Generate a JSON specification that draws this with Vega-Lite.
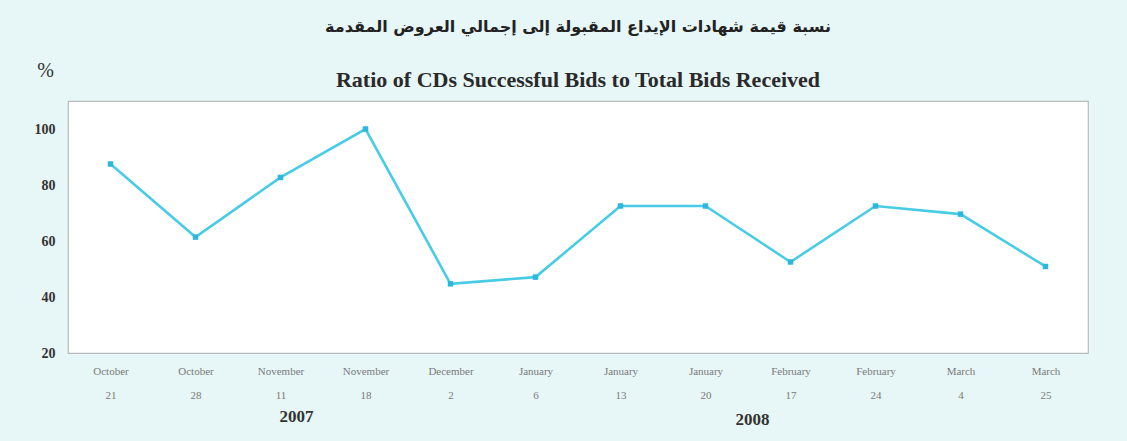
{
  "$schema": "https://vega.github.io/schema/vega-lite/v6.json",
  "width": 1020,
  "height": 252,
  "autosize": {"type": "none"},
  "padding": {"left": 68, "top": 101, "right": 39, "bottom": 88},
  "background": "#e7f6f6",
  "config": {
    "view": {"fill": "#ffffff", "stroke": "#b8bcbc", "strokeWidth": 1.2}
  },
  "title": {
    "text": "نسبة قيمة شهادات الإيداع المقبولة إلى إجمالي العروض المقدمة",
    "subtitle": "Ratio of CDs Successful Bids to Total Bids Received",
    "anchor": "middle",
    "font": "DejaVu Sans",
    "fontSize": 16,
    "fontWeight": "bold",
    "color": "#222222",
    "subtitleFont": "Liberation Serif",
    "subtitleFontSize": 22,
    "subtitleFontWeight": "bold",
    "subtitleColor": "#2a2a2a",
    "subtitlePadding": 35,
    "offset": -31
  },
  "datasets": {
    "ratio": [
      {"date": "October|21", "value": 87.5},
      {"date": "October|28", "value": 61.4},
      {"date": "November|11", "value": 82.7},
      {"date": "November|18", "value": 100},
      {"date": "December|2", "value": 44.7},
      {"date": "January|6", "value": 47.1},
      {"date": "January|13", "value": 72.5},
      {"date": "January|20", "value": 72.5},
      {"date": "February|17", "value": 52.5},
      {"date": "February|24", "value": 72.5},
      {"date": "March|4", "value": 69.6},
      {"date": "March|25", "value": 50.9}
    ]
  },
  "layer": [
    {
      "data": {"name": "ratio"},
      "mark": {"type": "line", "color": "#48cce6", "strokeWidth": 2.6},
      "encoding": {
        "x": {
          "field": "date",
          "type": "nominal",
          "sort": null,
          "axis": {
            "title": null,
            "labelAngle": 0,
            "labelExpr": "split(datum.value, '|')",
            "labelFont": "Liberation Serif",
            "labelFontSize": 11,
            "labelColor": "#7a7a7a",
            "labelLineHeight": 24,
            "labelPadding": 12,
            "ticks": false,
            "domain": false
          }
        },
        "y": {
          "field": "value",
          "type": "quantitative",
          "scale": {"domain": [20, 110], "nice": false, "zero": false},
          "axis": {
            "values": [20, 40, 60, 80, 100],
            "grid": false,
            "ticks": false,
            "domain": false,
            "labelFont": "Liberation Serif",
            "labelFontSize": 14,
            "labelFontWeight": "bold",
            "labelColor": "#333333",
            "labelPadding": 13,
            "title": "%",
            "titleAngle": 0,
            "titleX": -23,
            "titleY": -31,
            "titleAlign": "center",
            "titleBaseline": "middle",
            "titleFont": "Liberation Serif",
            "titleFontSize": 20,
            "titleFontWeight": "normal",
            "titleColor": "#333333"
          }
        }
      }
    },
    {
      "data": {"name": "ratio"},
      "mark": {"type": "point", "shape": "square", "filled": true, "size": 30, "color": "#2bb8dc", "opacity": 1},
      "encoding": {
        "x": {"field": "date", "type": "nominal", "sort": null},
        "y": {"field": "value", "type": "quantitative"}
      }
    },
    {
      "data": {"values": [{"date": "November|11", "year": "2007"}]},
      "mark": {"type": "text", "font": "Liberation Serif", "fontSize": 17, "fontWeight": "bold", "color": "#333333", "baseline": "middle", "dy": 64, "dx": 16},
      "encoding": {
        "x": {"field": "date", "type": "nominal", "sort": null},
        "y": {"datum": 20},
        "text": {"field": "year"}
      }
    },
    {
      "data": {"values": [{"date": "January|20", "year": "2008"}]},
      "mark": {"type": "text", "font": "Liberation Serif", "fontSize": 17, "fontWeight": "bold", "color": "#333333", "baseline": "middle", "dy": 67, "dx": 47},
      "encoding": {
        "x": {"field": "date", "type": "nominal", "sort": null},
        "y": {"datum": 20},
        "text": {"field": "year"}
      }
    }
  ]
}
